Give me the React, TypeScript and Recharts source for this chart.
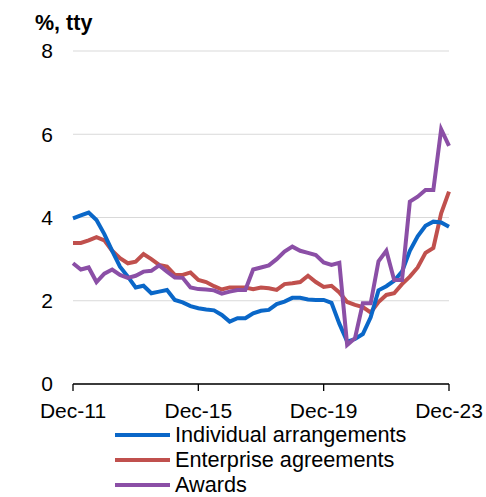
import { LineChart, Line, XAxis, YAxis, CartesianGrid, Legend } from "recharts";

// quarterly, Dec-11 to Dec-23
const months = ["Mar", "Jun", "Sep", "Dec"];
const quarters: string[] = ["Dec-11"];
for (let y = 12; y <= 23; y++) {
  months.forEach((m) => quarters.push(`${m}-${y}`));
}

const individual = [
  3.98, 4.05, 4.12, 3.94, 3.6, 3.2, 2.82, 2.58, 2.32, 2.36, 2.18, 2.22, 2.26,
  2.02, 1.96, 1.87, 1.82, 1.79, 1.77, 1.66, 1.5, 1.58, 1.58, 1.7, 1.76,
  1.78, 1.92, 1.98, 2.07, 2.07, 2.03, 2.02, 2.02, 1.95, 1.45, 1.02, 1.08,
  1.2, 1.6, 2.25, 2.35, 2.48, 2.7, 3.2, 3.55, 3.8, 3.9, 3.88, 3.78,
];
const enterprise = [
  3.39, 3.39, 3.45, 3.53, 3.45, 3.2, 3.02, 2.9, 2.94, 3.12, 3.0, 2.86, 2.82,
  2.62, 2.62, 2.68, 2.5, 2.45, 2.35, 2.27, 2.32, 2.32, 2.32, 2.28, 2.32,
  2.3, 2.26, 2.4, 2.42, 2.45, 2.6, 2.45, 2.33, 2.36, 2.2, 1.97, 1.9,
  1.85, 1.72, 1.97, 2.14, 2.18, 2.4, 2.58, 2.8, 3.15, 3.27, 4.1, 4.62,
];
const awards = [
  2.9, 2.75, 2.8, 2.45, 2.65, 2.75, 2.62, 2.55, 2.6, 2.7, 2.72, 2.85, 2.7,
  2.56, 2.55, 2.32, 2.28, 2.27, 2.25, 2.17, 2.22, 2.26, 2.26, 2.75, 2.8,
  2.85, 3.0, 3.18, 3.3, 3.2, 3.15, 3.1, 2.92, 2.86, 2.91, 0.94, 1.1,
  1.94, 1.94, 2.95, 3.2, 2.5, 2.5, 4.38, 4.5, 4.66, 4.66, 6.12, 5.72,
];

const xTicks = ["Dec-11", "Dec-15", "Dec-19", "Dec-23"];
const yTicks = [0, 2, 4, 6, 8];

const series = [
  { key: "ind", name: "Individual arrangements", color: "#0A67C8" },
  { key: "ent", name: "Enterprise agreements", color: "#C0504D" },
  { key: "awd", name: "Awards", color: "#8B4FA6" },
];
const drawOrder = ["ent", "ind", "awd"];

const data = quarters.map((q, i) => ({
  q,
  ind: individual[i],
  ent: enterprise[i],
  awd: awards[i],
}));

const font = "Arial, 'Liberation Sans', sans-serif";

const LegendBox = () => (
  <div style={{ fontFamily: font, fontSize: 21.7, color: "#000" }}>
    {series.map((s) => (
      <div key={s.key} style={{ display: "flex", alignItems: "center", height: 25 }}>
        <div style={{ width: 55, height: 4, background: s.color, marginRight: 5 }} />
        <span style={{ lineHeight: "25px" }}>{s.name}</span>
      </div>
    ))}
  </div>
);

export default function App() {
  return (
    <div style={{ position: "absolute", left: 0, top: 0, width: 486, height: 497, background: "#fff" }}>
      <div
        style={{
          position: "absolute",
          left: 35,
          top: 10,
          fontFamily: font,
          fontWeight: "bold",
          fontSize: 21.5,
          lineHeight: "26px",
        }}
      >
        %, tty
      </div>
      <LineChart width={486} height={497} data={data} margin={{ top: 51, right: 37, left: 0, bottom: 0 }}>
        <CartesianGrid vertical={false} stroke="#d9d9d9" strokeWidth={1.2} />
        <XAxis
          dataKey="q"
          ticks={xTicks}
          interval={0}
          height={113}
          stroke="#000"
          strokeWidth={1.3}
          tickSize={7}
          tickMargin={12}
          tick={{ fill: "#000", fontSize: 21, fontFamily: font }}
        />
        <YAxis
          domain={[0, 8]}
          ticks={yTicks}
          width={73}
          axisLine={false}
          tickLine={false}
          tickMargin={14}
          tick={{ fill: "#000", fontSize: 21, fontFamily: font }}
        />
        <Legend
          layout="vertical"
          align="center"
          verticalAlign="middle"
          content={() => <LegendBox />}
          wrapperStyle={{ left: 115, top: 422, width: 360 }}
        />
        {drawOrder.map((k) => {
          const s = series.find((x) => x.key === k)!;
          return (
            <Line
              key={k}
              dataKey={k}
              name={s.name}
              stroke={s.color}
              strokeWidth={4}
              dot={false}
              type="linear"
              isAnimationActive={false}
            />
          );
        })}
      </LineChart>
    </div>
  );
}
